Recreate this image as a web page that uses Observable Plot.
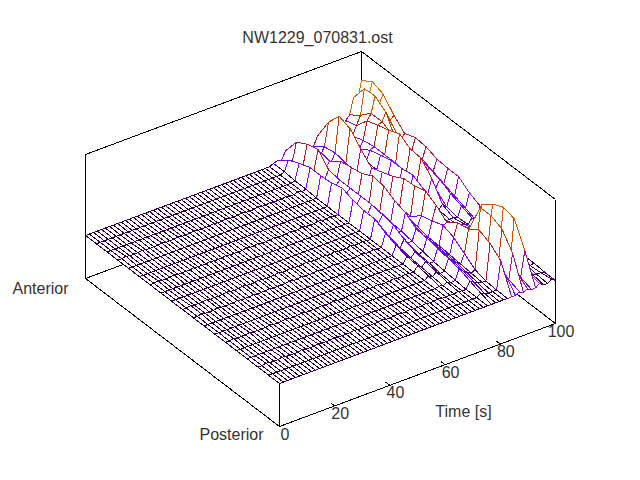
<!DOCTYPE html>
<html>
<head>
<meta charset="utf-8">
<script src="https://cdn.jsdelivr.net/npm/d3@7"></script>
<script src="https://cdn.jsdelivr.net/npm/@observablehq/plot@0.6"></script>
<style>
  body { margin: 0; background: white; }
  svg { display: block; }
</style>
</head>
<body>
<div id="chart"></div>
<script>
const title = "NW1229_070831.ost"
const timeTicks = [0, 20, 40, 60, 80, 100]

// samples along the embryo, 0 = posterior, 1 = anterior
const places = [0, .056, .111, .167, .222, .278, .333, .389, .444, .5, .556, .611, .667, .722, .778, .833, .889, .944, 1]

const times = [0, 1.4, 2.9, 4.3, 5.8, 7.2, 8.7, 10.1, 11.6, 13, 14.5, 15.9, 17.4, 18.8, 20.3, 21.7, 23.2, 24.6, 26.1, 27.5,
  29, 30.4, 31.9, 33.3, 34.8, 36.2, 37.7, 39.1, 40.6, 42, 43.5, 44.9, 46.4, 47.8, 49.3, 50.7, 52.2, 53.6, 55.1, 56.5,
  58, 59.4, 60.9, 62.3, 63.8, 65.2, 66.7, 68.1, 69.6, 71, 72.5, 73.9, 75.4, 76.8, 78.3, 79.7, 81.2, 82.6, 84.1, 85.5,
  87, 88.4, 89.9, 91.3, 92.8, 94.2, 95.7, 97.1, 98.6, 100]

// heights, one row per time
const quiet  = [0,0,0,0,0,0,0,0,0,0,0,0,0,0,0,0,0,0,0]
const ripple = [0,0,1,0,0,1,0,0,1,1,0,0,1,0,0,1,0,0,0]
const edge   = [0,0,0,0,0,0,0,0,0,0,0,0,0,0,0,1,1,2,2]
const t696  = [0,0,0,1,3,5,6,9,13,19,19,21,25,22,21,21,17,12,3]
const t710  = [0,0,0,0,1,2,3,5,8,13,14,16,18,17,16,16,13,9,2]
const t725  = [0,0,1,2,4,6,8,12,18,20,22,22,22,22,24,36,33,27,10]
const t739  = [0,0,0,0,1,3,4,7,10,12,14,14,14,14,14,22,20,15,6]
const t754  = [0,0,0,1,2,3,5,7,9,10,12,12,12,12,12,16,14,10,4]
const t768  = [0,3,7,11,13,15,17,18,26,30,36,38,32,30,28,20,22,19,6]
const t783  = [0,1,4,7,9,10,12,12,18,20,24,24,20,18,16,12,12,10,4]
const t797  = [0,0,2,4,6,7,8,8,12,14,16,16,14,12,10,8,8,7,3]
const t812  = [0,0,1,2,3,4,5,5,8,10,12,12,10,8,8,6,6,5,2]
const t826  = [0,0,1,4,12,20,24,20,17,8,9,9,8,8,10,12,14,12,4]
const t841  = [0,28,37,42,35,33,25,34,40,37,36,30,26,22,33,45,49,35,13]
const t855  = [0,14,20,24,20,20,16,20,24,22,20,18,14,14,20,28,32,24,9]
const t870  = [2,6,12,16,14,14,11,10,10,9,8,8,8,10,12,18,20,16,6]
const t884  = [0,31,47,52,52,24,15,14,10,10,10,10,9,8,8,8,8,6,3]
const t899  = [2,10,18,20,20,12,8,7,6,6,6,6,6,6,6,6,5,4,2]
const t913  = [0,4,8,10,15,20,12,7,2,5,18,24,22,22,19,16,9,5,2]
const t928  = [0,29,53,56,51,42,11,4,3,4,12,16,16,18,18,18,16,12,6]
const t942  = [3,5,20,25,25,20,8,5,3,8,26,38,39,46,41,38,34,21,18]
const t957  = [0,2,8,12,12,10,5,3,2,4,14,20,22,30,34,40,40,30,22]
const t971  = [0,1,2,3,5,7,9,8,12,16,22,25,27,26,26,48,56,55,38]
const t986  = [3,1,0,1,2,3,4,4,8,12,16,20,24,24,26,38,46,46,34]
const t1000 = [0,0,1,1,2,5,9,17,22,30,30,31,35,36,32,42,55,59,52]

const surface = [
  quiet, quiet, ripple, quiet, quiet, quiet, ripple, quiet, quiet, quiet,
  quiet, ripple, quiet, quiet, quiet, ripple, quiet, quiet, quiet, ripple,
  quiet, quiet, quiet, quiet, ripple, quiet, quiet, ripple, quiet, quiet,
  quiet, ripple, quiet, quiet, quiet, ripple, quiet, quiet, ripple, quiet,
  quiet, quiet, ripple, quiet, quiet, ripple, quiet, edge,
  t696, t710, t725, t739, t754, t768, t783, t797, t812, t826, t841, t855,
  t870, t884, t899, t913, t928, t942, t957, t971, t986, t1000
]

const heightStops  = [0, 3, 9, 16, 22, 28, 34, 40, 46, 52, 58, 64]
const heightColors = ["#2c0048", "#3f005e", "#6b02e6", "#8405fe", "#980bc9", "#af1a30", "#bf2d00", "#cd4500", "#db6600", "#e88f00", "#f4c200", "#ffff00"]

// gnuplot style view: time runs up right, place runs up left, height straight up
const floorZ = -43, topZ = 81
const view = (t, p, z) => ({x: 279 + 2.76 * t - 194 * p, y: 383 - 1.03 * t - 148 * p - z})

// cells go back to front so the white fill hides whatever is behind
let cells = []
for (let n = times.length - 2; n >= 0; n--) {
  for (let i = places.length - 2; i >= 0; i--) {
    let corners = [[n, i], [n, i + 1], [n + 1, i + 1], [n + 1, i], [n, i]]
    let height = d3.max(corners, ([a, b]) => surface[a][b]) * .8
    corners.forEach(([a, b]) => {
      cells.push({cell: n + "-" + i, height, ...view(times[a], places[b], surface[a][b])})
    })
  }
}

const edgeLink = ([a, b]) => {
  let from = view(...a), to = view(...b)
  return {x1: from.x, y1: from.y, x2: to.x, y2: to.y}
}

const behind = [
  [[0, 1, floorZ], [0, 1, topZ]],
  [[0, 1, floorZ], [100, 1, floorZ]],
  [[100, 1, floorZ], [100, 1, topZ]],
  [[100, 1, floorZ], [100, 0, floorZ]],
  [[0, 1, topZ], [100, 1, topZ]],
  [[100, 1, topZ], [100, 0, topZ]],
  [[100, 0, floorZ], [100, 0, topZ]]
].map(edgeLink)

const front = [
  [[0, 1, floorZ], [0, 0, floorZ]],
  [[0, 0, floorZ], [100, 0, floorZ]],
  [[0, 0, floorZ], [0, 0, 0]]
].map(edgeLink)

const tickMarks = timeTicks.slice(1, -1).map(t => edgeLink([[t, 0, floorZ], [t, .022, floorZ]]))

const boxStyle = {x1: "x1", y1: "y1", x2: "x2", y2: "y2", stroke: "black", strokeWidth: 1, shapeRendering: "crispEdges"}
const font = {fontFamily: "Liberation Sans", fontSize: 16, fill: "#333"}

let chart = Plot.plot({
  width: 640,
  height: 480,
  margin: 0,
  style: {background: "white"},
  x: {domain: [0, 640], range: [0, 640], axis: null},
  y: {domain: [0, 480], range: [0, 480], axis: null},
  color: {type: "linear", domain: heightStops, range: heightColors, clamp: true},
  marks: [
    Plot.link(behind, boxStyle),
    Plot.line(cells, {x: "x", y: "y", z: "cell", stroke: "height", fill: "white", strokeWidth: 1, shapeRendering: "crispEdges"}),
    Plot.link(front, boxStyle),
    Plot.link(tickMarks, boxStyle),
    Plot.text(timeTicks, {x: t => view(t, 0, floorZ).x, y: t => view(t, 0, floorZ).y, text: d => String(d), dx: 5.5, dy: 8, ...font}),
    Plot.text([title], {frameAnchor: "top", text: d => d, dx: -3, dy: 31, ...font}),
    Plot.text(["Anterior"], {x: view(0, 1, floorZ).x, y: view(0, 1, floorZ).y, text: d => d, dx: -45, dy: 10, ...font}),
    Plot.text(["Posterior"], {x: view(0, 0, floorZ).x, y: view(0, 0, floorZ).y, text: d => d, dx: -48, dy: 8, ...font}),
    Plot.text(["Time [s]"], {x: view(50, 0, floorZ).x, y: view(50, 0, floorZ).y, text: d => d, dx: 46, dy: 36.5, ...font})
  ]
})

d3.select('#chart').append(() => chart)
</script>
</body>
</html>
